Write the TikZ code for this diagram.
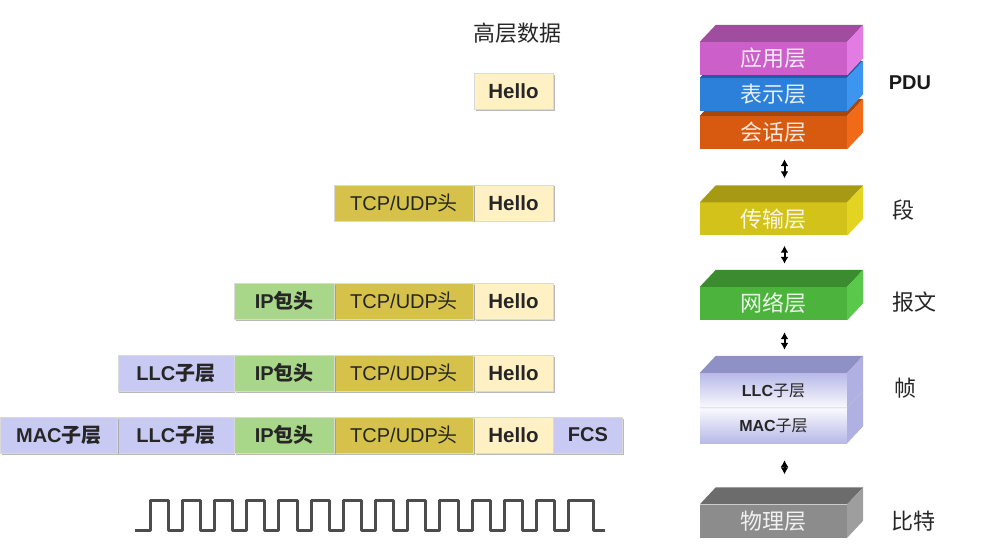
\documentclass[tikz,border=0pt]{standalone}
\usepackage{fontspec}
\setsansfont{Liberation Sans}
\newfontfamily\cjk{Noto Sans CJK SC}
\usepackage{tikz}
\usetikzlibrary{arrows.meta, positioning, shadows}

\newcommand{\zh}[1]{{\cjk #1}}
% top and right faces of a layer block (front face = node #1)
\newcommand{\boxfaces}[3]{%
  \fill[#2] (#1.north west) -- ++(16,-17) -- ([shift={(16,-17)}]#1.north east) -- (#1.north east) -- cycle;
  \fill[#3] (#1.north east) -- ++(16,-17) -- ([shift={(16,-17)}]#1.south east) -- (#1.south east) -- cycle;
}

\definecolor{helloC}{HTML}{FFF1C4}
\definecolor{tcpC}{HTML}{D6C24A}
\definecolor{ipC}{HTML}{A9D78A}
\definecolor{lavC}{HTML}{C9CAF4}
\definecolor{appF}{HTML}{CC5FC9}
\definecolor{appT}{HTML}{A04C9F}
\definecolor{appS}{HTML}{E27BE2}
\definecolor{preF}{HTML}{2C80DA}
\definecolor{preT}{HTML}{1F5EA6}
\definecolor{preS}{HTML}{3C95EE}
\definecolor{sesF}{HTML}{D85A10}
\definecolor{sesT}{HTML}{A8460C}
\definecolor{sesS}{HTML}{F06A18}
\definecolor{traF}{HTML}{D3C21A}
\definecolor{traT}{HTML}{A69A12}
\definecolor{traS}{HTML}{E3D422}
\definecolor{netF}{HTML}{4CB43C}
\definecolor{netT}{HTML}{3A8C2E}
\definecolor{netS}{HTML}{5AC84A}
\definecolor{llcF}{HTML}{B8B9E8}
\definecolor{llcT}{HTML}{8F90C6}
\definecolor{llcS}{HTML}{B0B1E2}
\definecolor{phyF}{HTML}{8C8C8C}
\definecolor{phyT}{HTML}{6C6C6C}
\definecolor{phyS}{HTML}{9E9E9E}

\tikzset{
  cell/.style={minimum height=36, minimum width=#1, inner sep=0pt,
    draw=black!15, line width=0.4pt,
    font=\sffamily\fontsize{20}{24}\selectfont, text=black!85,
    drop shadow={shadow xshift=1.5pt, shadow yshift=-1.5pt, fill=black!45, opacity=0.6}},
  hello/.style={cell=79, fill=helloC, font=\sffamily\bfseries\fontsize{20.5}{24}\selectfont},
  tcp/.style={cell=139, fill=tcpC},
  iphead/.style={cell=100, fill=ipC, font=\sffamily\bfseries\fontsize{20}{24}\selectfont},
  llc/.style={cell=116, fill=lavC, font=\sffamily\bfseries\fontsize{20}{24}\selectfont},
  mac/.style={cell=117, fill=lavC, font=\sffamily\bfseries\fontsize{20}{24}\selectfont},
  fcs/.style={cell=69, fill=lavC, font=\sffamily\bfseries\fontsize{20}{24}\selectfont},
  layer/.style={minimum width=147, minimum height=33, inner sep=0pt, fill=#1,
    font=\cjk\fontsize{22}{24}\selectfont, text=white!88!#1},
  sublayer/.style={minimum width=147, minimum height=35, inner sep=0pt,
    font=\sffamily\bfseries\fontsize{16}{20}\selectfont, text=black!85},
  unit/.style={font=\cjk\fontsize{22}{24}\selectfont, text=black!85},
  dbl/.style={{Latex[length=7pt,width=8pt]}-{Latex[length=7pt,width=8pt]}, line width=2pt},
  wave/.style={draw=black!70, line width=3pt, line join=round}
}

\begin{document}
\begin{tikzpicture}[x=1pt, y=-1pt]
  \useasboundingbox (0,0) rectangle (996,548);

  % upper layer data
  \node[font=\cjk\fontsize{22}{24}\selectfont, text=black!85] (data) at (517,33) {高层数据};

  % packets, built from right to left
  \node[hello] (h1) at (513.5,91.5) {Hello};

  \node[hello] (h2) at (513.5,203) {Hello};
  \node[tcp, left=0pt of h2] (t2) {TCP/UDP\zh{头}};

  \node[hello] (h3) at (513.5,301) {Hello};
  \node[tcp, left=0pt of h3] (t3) {TCP/UDP\zh{头}};
  \node[iphead, left=0pt of t3] (ip3) {IP\zh{包头}};

  \node[hello] (h4) at (513.5,373) {Hello};
  \node[tcp, left=0pt of h4] (t4) {TCP/UDP\zh{头}};
  \node[iphead, left=0pt of t4] (ip4) {IP\zh{包头}};
  \node[llc, left=0pt of ip4] (llc4) {LLC\zh{子层}};

  \node[hello] (h5) at (513.5,435) {Hello};
  \node[fcs, right=0pt of h5] (fcs5) {FCS};
  \node[tcp, left=0pt of h5] (t5) {TCP/UDP\zh{头}};
  \node[iphead, left=0pt of t5] (ip5) {IP\zh{包头}};
  \node[llc, left=0pt of ip5] (llc5) {LLC\zh{子层}};
  \node[mac, left=0pt of llc5] (mac5) {MAC\zh{子层}};

  % bit stream
  \draw[wave] (135,530) -- (150,530)
    \foreach \i in {0,...,12} { -- ++(0,-30) -- ++(18.3,0) -- ++(0,30) -- ++(13.9,0) }
    -- ++(0,-30) -- ++(25,0) -- ++(0,30) -- (605,530);

  % layer stack, drawn bottom to top so upper blocks cover the lower ones
  \node[layer=sesF] (ses) at (773.5,132.5) {会话层};
  \boxfaces{ses}{sesT}{sesS}
  \node[layer=preF] (pre) at (773.5,94.5) {表示层};
  \boxfaces{pre}{preT}{preS}
  \node[layer=appF] (app) at (773.5,58.5) {应用层};
  \boxfaces{app}{appT}{appS}

  \node[layer=traF] (tra) at (773.5,219) {传输层};
  \boxfaces{tra}{traT}{traS}

  \node[layer=netF] (net) at (773.5,303.5) {网络层};
  \boxfaces{net}{netT}{netS}

  \node[sublayer, top color=white!92!llcF, bottom color=llcF] (mac) at (773.5,425.5) {MAC\zh{\mdseries 子层}};
  \boxfaces{mac}{llcT}{llcS}
  \node[sublayer, top color=llcF, bottom color=white!92!llcF] (llc) at (773.5,390.5) {LLC\zh{\mdseries 子层}};
  \boxfaces{llc}{llcT}{llcS}
  \draw[llcT!60, line width=0.6pt] (mac.north west) -- (mac.north east) -- ++(16,-17);

  \node[layer=phyF] (phy) at (773.5,521) {物理层};
  \boxfaces{phy}{phyT}{phyS}

  % arrows between blocks
  \draw[dbl, shorten <=10pt, shorten >=24pt] ([xshift=11pt]ses.south) -- ([xshift=11pt]tra.north);
  \draw[dbl, shorten <=10pt, shorten >=23pt] ([xshift=11pt]tra.south) -- ([xshift=11pt]net.north);
  \draw[dbl, shorten <=12pt, shorten >=23pt] ([xshift=11pt]net.south) -- ([xshift=11pt]llc.north);
  \draw[dbl, shorten <=17pt, shorten >=30pt] ([xshift=11pt]mac.south) -- ([xshift=11pt]phy.north);

  % PDU names
  \node[font=\sffamily\bfseries\fontsize{20}{24}\selectfont, text=black!90] (pdu) at (910,83) {PDU};
  \node[unit] (seg) at (903,210) {段};
  \node[unit] (pkt) at (914,302) {报文};
  \node[unit] (frm) at (905,388) {帧};
  \node[unit] (bit) at (913,521) {比特};
\end{tikzpicture}
\end{document}
